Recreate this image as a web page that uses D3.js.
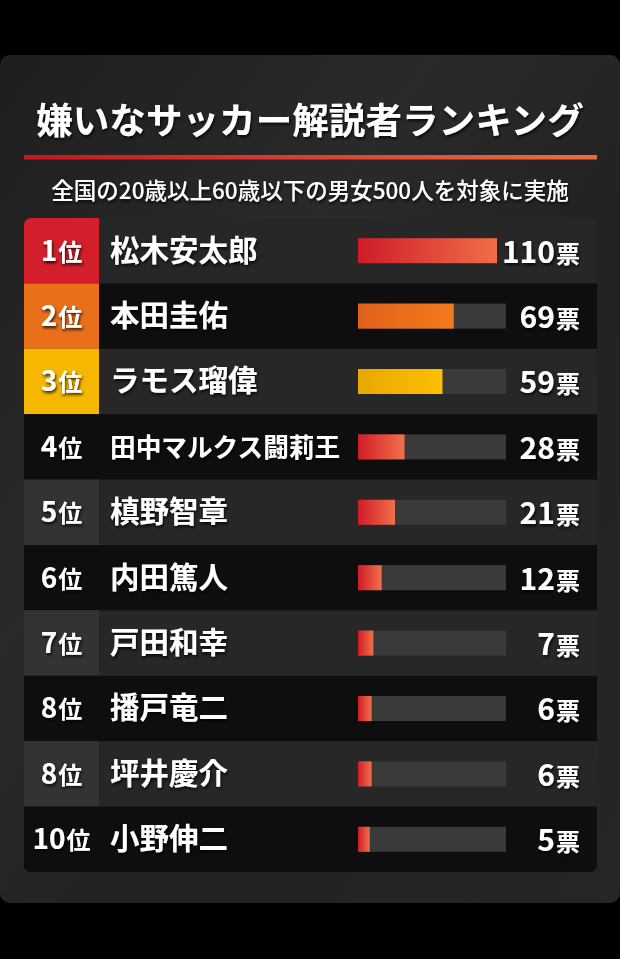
<!DOCTYPE html>
<html>
<head>
<meta charset="utf-8">
<script src="https://cdn.jsdelivr.net/npm/d3@7"></script>
<style>
  html, body { margin: 0; padding: 0; background: #000; }
  svg { display: block; }
  text { font-family: "Noto Sans CJK JP", "Noto Sans", sans-serif; fill: #fff; }
</style>
</head>
<body>
<div id="chart"></div>
<script>
// data
const title = "嫌いなサッカー解説者ランキング"
const subtitle = "全国の20歳以上60歳以下の男女500人を対象に実施"
const ranks = ["1", "2", "3", "4", "5", "6", "7", "8", "8", "10"]
const names = ["松木安太郎", "本田圭佑", "ラモス瑠偉", "田中マルクス闘莉王", "槙野智章", "内田篤人", "戸田和幸", "播戸竜二", "坪井慶介", "小野伸二"]
const votes = [110, 69, 59, 28, 21, 12, 7, 6, 6, 5]

// styles
const width = 620
const height = 959
const table = { left: 24, right: 597, top: 218, bottom: 872, rankW: 75 }
const bar = { x0: 358, x1: 506, h: 25 }
const valueX = 580
const nameMaxW = 231
const medal = [
  { cell: "#d21f2b", from: "#cf1c28", to: "#f06e48" },
  { cell: "#e8701b", from: "#e0621a", to: "#f27a1e" },
  { cell: "#f5b700", from: "#e9a700", to: "#ffbf00" }
]
const redBar = { from: "#d01c27", to: "#f2704a" }

const svg = d3.select("#chart").append("svg")
  .attr("width", width)
  .attr("height", height)

const defs = svg.append("defs")

const shadow = defs.append("filter").attr("id", "shadow")
  .attr("x", "-10%").attr("y", "-30%").attr("width", "120%").attr("height", "160%")
shadow.append("feDropShadow")
  .attr("dx", 1).attr("dy", 2).attr("stdDeviation", 1.5)
  .attr("flood-color", "#000").attr("flood-opacity", 0.8)

const cardGrad = defs.append("linearGradient").attr("id", "card-grad")
  .attr("x1", "0%").attr("y1", "0%").attr("x2", "100%").attr("y2", "100%")
cardGrad.append("stop").attr("offset", "0%").attr("stop-color", "#1e1e1e")
cardGrad.append("stop").attr("offset", "35%").attr("stop-color", "#2a2a2a")
cardGrad.append("stop").attr("offset", "60%").attr("stop-color", "#222")
cardGrad.append("stop").attr("offset", "100%").attr("stop-color", "#262626")

const lineGrad = defs.append("linearGradient").attr("id", "line-grad")
lineGrad.append("stop").attr("offset", "0%").attr("stop-color", "#c8141f")
lineGrad.append("stop").attr("offset", "100%").attr("stop-color", "#ec6d3c")

const barGrads = votes.map((v, i) => {
  const c = medal[i] || redBar
  const g = defs.append("linearGradient").attr("id", `bar-grad-${i}`)
  g.append("stop").attr("offset", "0%").attr("stop-color", c.from)
  g.append("stop").attr("offset", "100%").attr("stop-color", c.to)
  return `url(#bar-grad-${i})`
})

// card
svg.append("rect")
  .attr("x", 0).attr("y", 55)
  .attr("width", width).attr("height", 848)
  .attr("rx", 10)
  .attr("fill", "url(#card-grad)")

// header
svg.append("text")
  .attr("x", width / 2).attr("y", 134)
  .attr("text-anchor", "middle")
  .attr("font-size", 36.6).attr("font-weight", 700)
  .attr("filter", "url(#shadow)")
  .text(title)

svg.append("rect")
  .attr("x", 24).attr("y", 155)
  .attr("width", 573).attr("height", 4.5)
  .attr("fill", "url(#line-grad)")

svg.append("text")
  .attr("x", width / 2).attr("y", 199)
  .attr("text-anchor", "middle")
  .attr("font-size", 22.5).attr("font-weight", 500)
  .attr("fill", "#f0f0f0")
  .attr("filter", "url(#shadow)")
  .text(subtitle)

// scales
const idx = d3.range(names.length)
let y = d3.scaleBand().domain(idx).range([table.top, table.bottom])
let x = d3.scalePow().exponent(0.8).domain([0, d3.max(votes)]).range([0, 139])

const clip = defs.append("clipPath").attr("id", "table-clip")
clip.append("rect")
  .attr("x", table.left).attr("y", table.top)
  .attr("width", table.right - table.left).attr("height", table.bottom - table.top)
  .attr("rx", 7)

let g = svg.append("g").attr("clip-path", "url(#table-clip)")

let rows = g.selectAll(".row")
  .data(idx)
  .enter()
  .append("g")
  .attr("class", "row")
  .attr("transform", i => `translate(0,${y(i)})`)

rows.append("rect")
  .attr("x", table.left)
  .attr("width", table.right - table.left)
  .attr("height", y.bandwidth() + 0.5)
  .attr("fill", i => i % 2 === 0 ? "#272727" : "#0e0e0e")

rows.append("rect")
  .attr("x", table.left)
  .attr("width", table.rankW)
  .attr("height", y.bandwidth() + 0.5)
  .attr("fill", i => medal[i] ? medal[i].cell : (i % 2 === 0 ? "#333" : "#0e0e0e"))

const mid = y.bandwidth() / 2

// rank labels
let rankText = rows.append("text")
  .attr("x", table.left + table.rankW / 2)
  .attr("y", mid + 10)
  .attr("text-anchor", "middle")
  .attr("font-weight", 700)
  .attr("filter", "url(#shadow)")
rankText.append("tspan").attr("font-size", 28).text(i => ranks[i])
rankText.append("tspan").attr("font-size", 24).attr("dx", 1).text("位")

// names (long names shrink to fit before the bar)
rows.append("text")
  .attr("x", 110)
  .attr("y", mid + 10)
  .attr("font-size", i => Math.min(29.5, nameMaxW / names[i].length))
  .attr("font-weight", 700)
  .attr("filter", "url(#shadow)")
  .text(i => names[i])

// bar tracks
rows.filter(i => i > 0).append("rect")
  .attr("x", bar.x0)
  .attr("y", mid - bar.h / 2)
  .attr("width", bar.x1 - bar.x0)
  .attr("height", bar.h)
  .attr("fill", "#3a3a3a")

// bars
rows.append("rect")
  .attr("x", bar.x0)
  .attr("y", mid - bar.h / 2)
  .attr("width", i => x(votes[i]))
  .attr("height", bar.h)
  .attr("fill", i => barGrads[i])

// values
let valText = rows.append("text")
  .attr("x", valueX)
  .attr("y", mid + 12)
  .attr("text-anchor", "end")
  .attr("font-weight", 700)
  .attr("filter", "url(#shadow)")
valText.append("tspan").attr("font-size", 30).text(i => votes[i])
valText.append("tspan").attr("font-size", 24).attr("dx", 1).text("票")
</script>
</body>
</html>
